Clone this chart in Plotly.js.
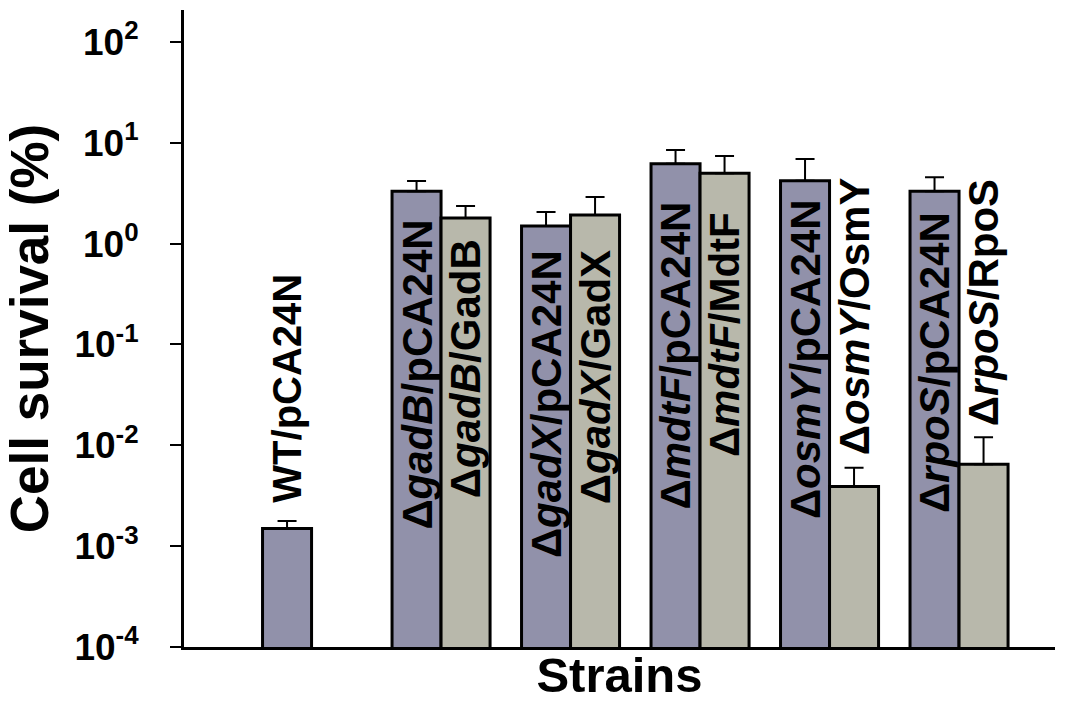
<!DOCTYPE html>
<html>
<head>
<meta charset="utf-8">
<script src="https://cdn.plot.ly/plotly-3.0.1.min.js"></script>
<style>html,body{margin:0;padding:0;background:#fff;}#chart{width:1079px;height:702px;}</style>
</head>
<body>
<div id="chart"></div>
<script>
// ---- data ----
const strains = ['WT', 'gadB', 'gadX', 'mdtF', 'osmY', 'rpoS'];
const vectorLabels = ['WT/pCA24N', 'Δ<i>gadB</i>/pCA24N', 'Δ<i>gadX</i>/pCA24N', 'Δ<i>mdtF</i>/pCA24N', 'Δ<i>osmY</i>/pCA24N', 'Δ<i>rpoS</i>/pCA24N'];
const complementLabels = [null, 'Δ<i>gadB</i>/GadB', 'Δ<i>gadX</i>/GadX', 'Δ<i>mdtF</i>/MdtF', 'Δ<i>osmY</i>/OsmY', 'Δ<i>rpoS</i>/RpoS'];
const vectorSurvival = [0.0015, 3.3, 1.5, 6.2, 4.2, 3.3];
const vectorError = [0.00028, 0.88, 0.56, 2.3, 2.7, 1.25];
const complementSurvival = [null, 1.8, 1.92, 5.0, 0.0039, 0.0065];
const complementError = [null, 0.56, 0.98, 2.4, 0.0021, 0.0055];
const yTickVals = [1e-4, 1e-3, 1e-2, 1e-1, 1e0, 1e1, 1e2];
const yTickText = ['10<sup>-4</sup>', '10<sup>-3</sup>', '10<sup>-2</sup>', '10<sup>-1</sup>', '10<sup>0</sup>', '10<sup>1</sup>', '10<sup>2</sup>'];

// ---- layout helpers (label placement, log10 units) ----
const vectorLabelPos = [[-2.593, 'bottom'], [0.254, 'top'], [-0.044, 'top'], [0.433, 'top'], [0.462, 'top'], [0.333, 'top']];
const complementLabelPos = [null, [0.065, 'top'], [-0.044, 'top'], [0.333, 'top'], [-2.117, 'bottom'], [-1.829, 'bottom']];

const FONT = 'Liberation Sans, Arial, Helvetica, sans-serif';
const BARGAP = 0.243;
const slot = (1 - BARGAP) / 4;
const xs = strains.map((s, i) => i);

const traces = [
  {
    type: 'bar', name: 'pCA24N', x: xs, y: vectorSurvival,
    marker: {color: '#9191AA', line: {color: '#000', width: 3}},
    error_y: {type: 'data', symmetric: false, array: vectorError, arrayminus: vectorError.map(() => 0), color: '#000', thickness: 2, width: 9.5},
    hoverinfo: 'skip'
  },
  {
    type: 'bar', name: 'complemented', x: xs, y: complementSurvival,
    marker: {color: '#B8B8AB', line: {color: '#000', width: 3}},
    error_y: {type: 'data', symmetric: false, array: complementError, arrayminus: complementError.map(() => 0), color: '#000', thickness: 2, width: 9.5},
    hoverinfo: 'skip'
  }
];

const annotations = [];
vectorLabels.forEach((t, i) => {
  const p = vectorLabelPos[i];
  annotations.push({x: xs[i] - slot, y: p[0], xref: 'x', yref: 'y', text: t, textangle: -90, showarrow: false,
    xanchor: 'center', yanchor: p[1], font: {family: FONT, size: i === 0 ? 40 : 42, color: '#000', weight: 'bold'}});
});
complementLabels.forEach((t, i) => {
  if (!t) return;
  const p = complementLabelPos[i];
  annotations.push({x: xs[i] + slot, y: p[0], xref: 'x', yref: 'y', text: t, textangle: -90, showarrow: false,
    xanchor: 'center', yanchor: p[1], font: {family: FONT, size: 42, color: '#000', weight: 'bold'}});
});

const layout = {
  width: 1079, height: 702,
  margin: {l: 184, r: 24, t: 10, b: 55},
  paper_bgcolor: '#fff', plot_bgcolor: '#fff',
  showlegend: false,
  barmode: 'group', bargap: BARGAP, bargroupgap: 0,
  font: {family: FONT, color: '#000'},
  xaxis: {
    range: [-0.985, 5.741], showticklabels: false, ticks: '', showgrid: false, zeroline: false,
    showline: true, linecolor: '#000', linewidth: 3,
    title: {text: 'Strains', font: {family: FONT, size: 49, weight: 'bold', color: '#000'}, standoff: 10}
  },
  yaxis: {
    type: 'log', range: [-4, 2.317], tickvals: yTickVals, ticktext: yTickText,
    ticks: 'outside', ticklen: 11, tickwidth: 2, tickcolor: '#000', ticklabelstandoff: 24,
    tickfont: {family: FONT, size: 37, weight: 'bold', color: '#000'},
    showgrid: false, zeroline: false, showline: true, linecolor: '#000', linewidth: 3,
    title: {text: 'Cell survival (%)', font: {family: FONT, size: 53, weight: 'bold', color: '#000'}, standoff: 14}
  },
  annotations: annotations
};

Plotly.newPlot('chart', traces, layout, {displayModeBar: false, staticPlot: true});
</script>
</body>
</html>
